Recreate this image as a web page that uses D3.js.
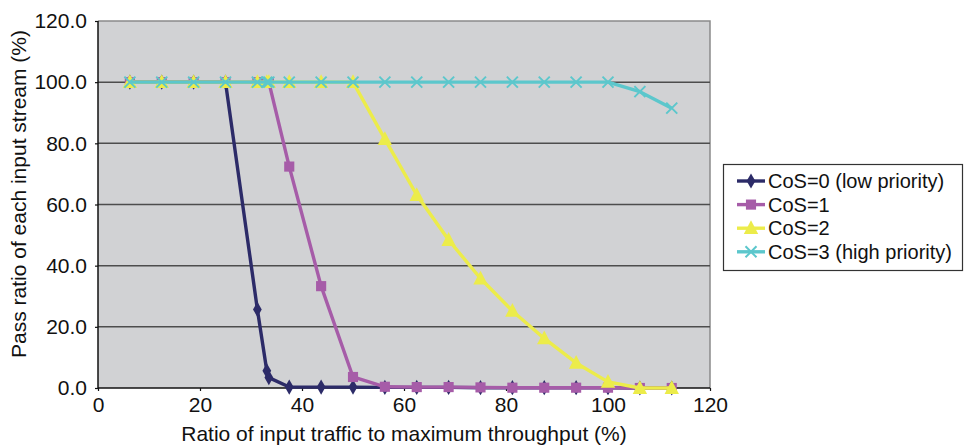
<!DOCTYPE html>
<html><head><meta charset="utf-8">
<script src="https://cdn.jsdelivr.net/npm/d3@7/dist/d3.min.js"></script>
<style>
html,body{margin:0;padding:0;background:#fff;}
text{font-family:"Liberation Sans",Arial,Helvetica,sans-serif;}
</style></head>
<body><svg id="chart" width="965" height="446"></svg>
<script>
const xValues = [6.25, 12.5, 18.75, 25, 31.25, 33.1, 33.5, 37.5, 43.75, 50, 56.25, 62.5, 68.75, 75, 81.25, 87.5, 93.75, 100, 106.25, 112.5];
const cos0 = [100, 100, 100, 100, 25.7, 5.6, 3.4, 0.3, 0.3, 0.3, 0.2, 0.2, 0.2, 0.1, 0.1, 0.1, 0.1, 0.1, 0, 0];
const cos1 = [100, 100, 100, 100, 100, 100, 100, 72.4, 33.3, 3.6, 0.4, 0.3, 0.3, 0.2, 0.1, 0.1, 0.1, 0.1, 0, 0];
const cos2 = [100, 100, 100, 100, 100, 100, 100, 100, 100, 100, 81.4, 63.1, 48.4, 35.8, 25.2, 16.2, 8.2, 2.0, 0, 0];
const cos3 = [100, 100, 100, 100, 100, 100, 100, 100, 100, 100, 100, 100, 100, 100, 100, 100, 100, 100, 96.9, 91.5];
const seriesNames = ["CoS=0 (low priority)", "CoS=1", "CoS=2", "CoS=3 (high priority)"];
const seriesColors = ["#2c2b68", "#a65ca8", "#ecec4a", "#5cc7cc"];
const seriesShapes = ["diamond", "square", "triangle", "x"];
const xTicks = [0, 20, 40, 60, 80, 100, 120];
const yTicks = [0, 20, 40, 60, 80, 100, 120];
const xTitle = "Ratio of input traffic to maximum throughput (%)";
const yTitle = "Pass ratio of each input stream (%)";

const FS = 21;
const svg = d3.select("#chart");
const L = 98, R = 710, T = 21, B = 388;
const x = d3.scaleLinear().domain([0, 120]).range([L, R]);
const y = d3.scaleLinear().domain([0, 120]).range([B, T]);

// plot background
svg.append("rect").attr("x", L).attr("y", T).attr("width", R - L).attr("height", B - T)
  .attr("fill", "#d1d2d4");
// top/right border
svg.append("path").attr("d", `M${L},${T}H${R}V${B}`).attr("fill", "none")
  .attr("stroke", "#8a8a8a").attr("stroke-width", 1.5);

// gridlines
svg.append("g").selectAll("line").data(yTicks.filter(d => d > 0 && d < 120)).join("line")
  .attr("x1", L).attr("x2", R).attr("y1", d => y(d)).attr("y2", d => y(d))
  .attr("stroke", "#4d4d4d").attr("stroke-width", 1.5);

// axes
const yAxis = d3.axisLeft(y).tickValues(yTicks).tickFormat(d3.format(".1f")).tickSize(3).tickPadding(8);
const gy = svg.append("g").attr("transform", `translate(${L},0)`).call(yAxis);
const xAxis = d3.axisBottom(x).tickValues(xTicks).tickFormat(d3.format("d")).tickSize(3).tickPadding(6);
const gx = svg.append("g").attr("transform", `translate(0,${B})`).call(xAxis);
[gy, gx].forEach(g => {
  g.select(".domain").attr("stroke", "#111").attr("stroke-width", 1.5);
  g.selectAll(".tick line").attr("stroke", "#111").attr("stroke-width", 1.2);
  g.selectAll(".tick text").attr("font-size", FS).attr("fill", "#111")
    .style("font-family", '"Liberation Sans",Arial,sans-serif');
});
gx.select(".domain").attr("d", `M${L},0H${R}`);
gy.select(".domain").attr("d", `M0,${B}V${T}`);

// titles
svg.append("text").attr("x", (L + R) / 2).attr("y", 441).attr("text-anchor", "middle")
  .attr("font-size", FS).attr("fill", "#111").text(xTitle);
svg.append("text").attr("transform", `translate(26,${194}) rotate(-90)`)
  .attr("text-anchor", "middle").attr("font-size", FS).attr("fill", "#111").text(yTitle);

function marker(g, shape, color, size) {
  if (shape === "diamond") {
    g.append("path").attr("d", d3.symbol(d3.symbolDiamond, size * size * 0.55)()).attr("fill", color);
  } else if (shape === "square") {
    g.append("path").attr("d", d3.symbol(d3.symbolSquare, size * size * 0.85)()).attr("fill", color);
  } else if (shape === "triangle") {
    const h = size * 1.05, w = size * 1.15;
    g.append("path").attr("d", `M0,${-h * 0.6}L${w / 2},${h * 0.45}L${-w / 2},${h * 0.45}Z`).attr("fill", color);
  } else {
    const s = size / 2;
    g.append("path").attr("d", `M${-s},${-s}L${s},${s}M${-s},${s}L${s},${-s}`)
      .attr("stroke", color).attr("stroke-width", 2).attr("fill", "none");
  }
}

const allSeries = [cos0, cos1, cos2, cos3];
const sizes = [11, 11, 12.5, 11];
const line = d3.line().x(d => x(d[0])).y(d => y(d[1]));
allSeries.forEach((vals, i) => {
  const pts = xValues.map((xv, j) => [xv, vals[j]]);
  const g = svg.append("g");
  g.append("path").datum(pts).attr("d", line).attr("fill", "none")
    .attr("stroke", seriesColors[i]).attr("stroke-width", 3.4).attr("stroke-linejoin", "round");
  pts.forEach(p => {
    const mg = g.append("g").attr("transform", `translate(${x(p[0])},${y(p[1])})`);
    marker(mg, seriesShapes[i], seriesColors[i], sizes[i]);
  });
});

// legend
const lg = svg.append("g");
lg.append("rect").attr("x", 723.5).attr("y", 164.5).attr("width", 239).attr("height", 106)
  .attr("fill", "#fff").attr("stroke", "#333").attr("stroke-width", 1.2);
seriesNames.forEach((name, i) => {
  const cy = 181 + i * 23.6;
  lg.append("line").attr("x1", 737).attr("x2", 765).attr("y1", cy).attr("y2", cy)
    .attr("stroke", seriesColors[i]).attr("stroke-width", 3.4);
  const mg = lg.append("g").attr("transform", `translate(751,${cy})`);
  marker(mg, seriesShapes[i], seriesColors[i], sizes[i]);
  lg.append("text").attr("x", 768).attr("y", cy).attr("dy", "0.35em")
    .attr("font-size", 20).attr("fill", "#111").text(name);
});
</script></body></html>
